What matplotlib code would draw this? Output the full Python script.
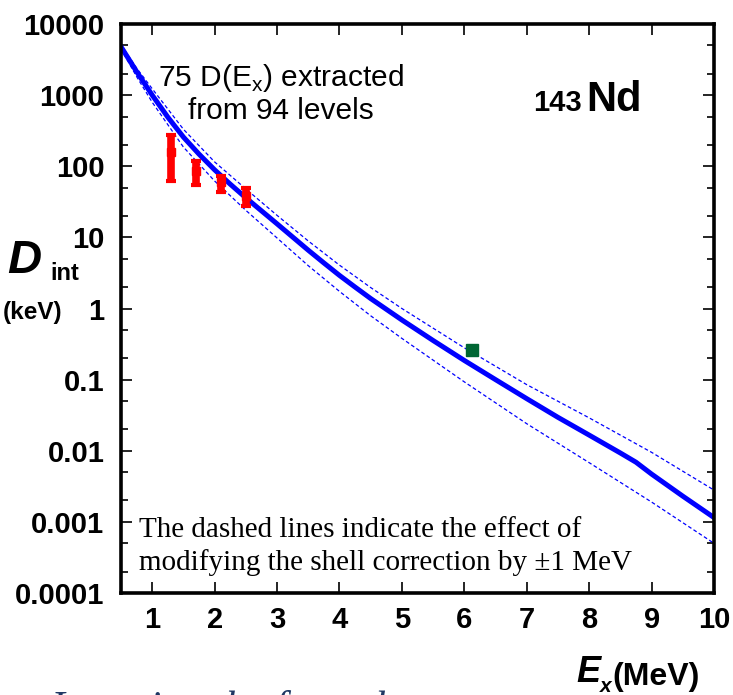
import numpy as np
import matplotlib as mpl
mpl.use('Agg')
from matplotlib import pyplot as plt
from matplotlib.ticker import FixedLocator, FixedFormatter, NullFormatter

### data ###
E_main = [0.5, 0.75, 1.0, 1.25, 1.5, 1.75, 2.0, 2.25, 2.5, 3.0, 3.5, 3.75,
          4.0, 4.25, 4.5, 5.0, 5.5, 6.0, 6.5, 7.0, 7.5, 8.0, 8.5, 8.75, 9.0,
          9.5, 10.0]
D_main = [4790, 2140, 1000, 490, 257, 148, 89, 56, 36, 15.5, 6.6, 4.37,
          2.92, 2.0, 1.38, 0.69, 0.355, 0.186, 0.1, 0.054, 0.0295, 0.0166,
          0.0093, 0.0069, 0.0047, 0.0023, 0.00115]

E_band = [0.5, 0.75, 1.0, 1.5, 2.0, 2.5, 3.0, 3.5, 4.0, 4.5, 5.0, 6.0, 7.0,
          8.0, 9.0, 10.0]
D_upper = [5130, 2400, 1230, 331, 115, 48, 20.4, 8.9, 4.07, 1.97, 1.0, 0.28,
           0.085, 0.029, 0.0095, 0.0028]
D_lower = [4470, 1820, 794, 186, 62, 24, 9.8, 4.0, 1.74, 0.79, 0.38, 0.093,
           0.024, 0.0068, 0.0019, 0.0005]

E_exp = [1.3, 1.7, 2.1, 2.5]
D_exp = [160, 85, 60, 38]
D_exp_lo = [62, 54, 43, 28]
D_exp_hi = [273, 118, 74, 49]

E_sn = [6.12]
D_sn = [0.26]

x_ticks = [1, 2, 3, 4, 5, 6, 7, 8, 9, 10]
y_ticks = [1e-4, 1e-3, 1e-2, 1e-1, 1, 10, 100, 1000, 10000]
y_labels = ['0.0001', '0.001', '0.01', '0.1', '1', '10', '100', '1000', '10000']

mpl.rc('font', family='Liberation Sans')

fig = plt.figure(figsize=(7.33, 6.95), dpi=100)
ax = fig.add_axes([121/733, 1 - 593/695, (714 - 121)/733, (593 - 24)/695])

blue = '#0000ff'
ax.plot(E_band, D_upper, color=blue, lw=0.9, ls=(0, (3, 2)))
ax.plot(E_band, D_lower, color=blue, lw=0.9, ls=(0, (3, 2)))
ax.plot(E_main, D_main, color=blue, lw=3.6, solid_joinstyle='round')

yerr = [np.array(D_exp) - np.array(D_exp_lo), np.array(D_exp_hi) - np.array(D_exp)]
ax.errorbar(E_exp, D_exp, yerr=yerr, fmt='s', color='#ff0000', ms=6,
            elinewidth=5.5, capsize=3.5, capthick=3, zorder=4)
ax.plot(E_sn, D_sn, 's', color='#006633', ms=9, zorder=5)

ax.set_yscale('log')
ax.set_xlim(0.5, 10.0)
ax.set_ylim(1e-4, 1e4)

ax.xaxis.set_major_locator(FixedLocator(x_ticks))
ax.yaxis.set_major_locator(FixedLocator(y_ticks))
ax.yaxis.set_major_formatter(FixedFormatter(y_labels))
minor = [m * 10.0**k for k in range(-4, 4) for m in (2, 5)]
ax.yaxis.set_minor_locator(FixedLocator(minor))
ax.yaxis.set_minor_formatter(NullFormatter())
ax.tick_params(which='both', direction='in', top=True, right=True, width=1.2)
ax.tick_params(which='major', length=8)
ax.tick_params(which='minor', length=5)
ax.tick_params(axis='y', pad=12)
ax.tick_params(axis='x', pad=9)
for lab in ax.get_xticklabels() + ax.get_yticklabels():
    lab.set_fontweight('bold')
    lab.set_fontsize(21)
for sp in ax.spines.values():
    sp.set_linewidth(2.6)

### texts ###
ax.text(0.27, 0.878, '75 D(E$_{\\mathregular{x}}$) extracted\nfrom 94 levels',
        transform=ax.transAxes, ha='center', va='center', fontsize=21.5,
        linespacing=1.1)
fig.text(533/733, 1 - 111/695, '143', fontsize=21, fontweight='bold',
         ha='left', va='baseline')
fig.text(586/733, 1 - 111/695, 'Nd', fontsize=30, fontweight='bold',
         ha='left', va='baseline')
ax.text(0.03, 0.082, 'The dashed lines indicate the effect of\n'
        'modifying the shell correction by \u00b11 MeV',
        transform=ax.transAxes, ha='left', va='center', fontsize=21,
        family='Liberation Serif', linespacing=1.28)

fig.text(7/733, 1 - 273/695, 'D', fontsize=34, fontweight='bold',
         fontstyle='italic', ha='left', va='baseline')
fig.text(50/733, 1 - 280/695, 'int', fontsize=17, fontweight='bold',
         ha='left', va='baseline')
fig.text(3/733, 1 - 319/695, '(keV)', fontsize=17.5, fontweight='bold',
         ha='left', va='baseline')

fig.text(576/733, 1 - 682/695, 'E', fontsize=26, fontweight='bold',
         fontstyle='italic', ha='left', va='baseline')
fig.text(600/733, 1 - 692/695, 'x', fontsize=15, fontweight='bold',
         fontstyle='italic', ha='left', va='baseline')
fig.text(612/733, 1 - 685/695, '(MeV)', fontsize=23, fontweight='bold',
         ha='left', va='baseline')

fig.text(50/733, 1 - 690/695, 'Inverting the formula', fontsize=30,
         family='Liberation Serif', fontstyle='italic', color='#1f3864',
         ha='left', va='top')

plt.savefig('out.png', dpi=100)
